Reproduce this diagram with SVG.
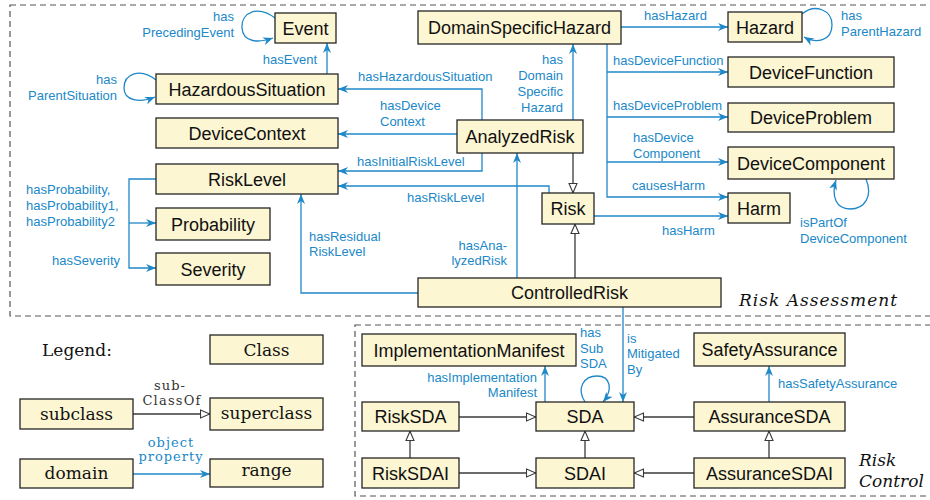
<svg xmlns="http://www.w3.org/2000/svg" width="930" height="500" viewBox="0 0 930 500">
<style>
.node rect{fill:#fdf6d2;stroke:#262626;stroke-width:1.3}
.node text{font-family:"Liberation Sans",Arial,sans-serif;font-size:18px;fill:#111;text-anchor:middle}
.lg rect{fill:#fdf6d2;stroke:#262626;stroke-width:1.3}
.lg text{font-family:"DejaVu Serif",serif;font-size:17px;fill:#111;text-anchor:middle}
.prop{fill:none;stroke:#1f88c8;stroke-width:1.3;marker-end:url(#arr)}
.bus{fill:none;stroke:#1f88c8;stroke-width:1.3}
.sub{fill:none;stroke:#3a3a3a;stroke-width:1.3;marker-end:url(#tri)}
.lbl{font-family:"Liberation Sans",Arial,sans-serif;font-size:13px;fill:#2088c8}
.r{text-anchor:end}
.c{text-anchor:middle}
.frame{fill:none;stroke:#555;stroke-width:1.2;stroke-dasharray:6,4}
.ital{font-family:"DejaVu Serif",serif;font-style:italic;font-size:17px;fill:#111}
.ser{font-family:"DejaVu Serif",serif;font-size:13px;text-anchor:middle}
</style>
<defs>
<marker id="arr" viewBox="0 0 10 8" refX="10" refY="4" markerWidth="10" markerHeight="8" orient="auto" markerUnits="userSpaceOnUse"><path d="M0,0 L10,4 L0,8 L3,4 Z" fill="#1f88c8"/></marker>
<marker id="tri" viewBox="0 0 11 10" refX="10.5" refY="5" markerWidth="11" markerHeight="10" orient="auto" markerUnits="userSpaceOnUse"><path d="M1,1 L10.3,5 L1,9 Z" fill="#fff" stroke="#3a3a3a" stroke-width="1.1"/></marker>
</defs>
<rect width="930" height="500" fill="#fff"/>
<g id="frames">
<rect class="frame" x="10" y="5" width="930" height="311"/>
<rect class="frame" x="355" y="325" width="600" height="171"/>
<text class="ital" x="739" y="306" textLength="158">Risk Assessment</text>
<text class="ital" x="859" y="466">Risk</text>
<text class="ital" x="859" y="487">Control</text>
</g>
<g id="connectors">
<path class="prop" d="M275,18 C258,5 241,12 242,28 C243,43 259,43 273,38"/>
<path class="prop" d="M327,74 V43"/>
<path class="prop" d="M156,80 C140,67 124,74 124,88 C124,101 140,103 155,97"/>
<path class="prop" d="M482,120 V89 H338"/>
<path class="prop" d="M457,134 H338"/>
<path class="prop" d="M482,153 V171 H338"/>
<path class="prop" d="M549,193 V186 H338"/>
<path class="prop" d="M418,293 H301 V194"/>
<path class="prop" d="M517,278 V153"/>
<path class="prop" d="M573,120 V44"/>
<path class="prop" d="M621,27 H728"/>
<path class="prop" d="M802,14 C815,3 832,10 832,25 C832,41 816,44 804,37"/>
<path class="prop" d="M607,44 V197 H728"/>
<path class="prop" d="M607,72 H728"/>
<path class="prop" d="M607,117 H728"/>
<path class="prop" d="M607,162 H728"/>
<path class="prop" d="M594,216 H728"/>
<path class="prop" d="M866,179 C873,196 865,209 850,209 C836,209 831,196 836,180"/>
<path class="prop" d="M156,179 H129 V268 H156"/>
<path class="prop" d="M129,223 H156"/>
<path class="prop" d="M623,307 V402"/>
<path class="prop" d="M585,402 C576,388 584,376 597,376 C611,376 613,390 603,402"/>
<path class="prop" d="M545,402 V366"/>
<path class="prop" d="M769,402 V366"/>
<path class="sub" d="M573,153 V193"/>
<path class="sub" d="M575,278 V224"/>
<path class="sub" d="M459,417 H536"/>
<path class="sub" d="M410,458 V431"/>
<path class="sub" d="M459,473 H536"/>
<path class="sub" d="M585,458 V431"/>
<path class="sub" d="M694,417 H634"/>
<path class="sub" d="M694,473 H634"/>
<path class="sub" d="M769,458 V431"/>
<path class="sub" d="M133,414 H210"/>
<path class="prop" d="M133,474 H210"/>
</g>
<g id="labels">
<text class="lbl r" x="234" y="20.5">has</text>
<text class="lbl r" x="234" y="36.5">PrecedingEvent</text>
<text class="lbl r" x="317" y="63.5">hasEvent</text>
<text class="lbl r" x="117" y="83.5">has</text>
<text class="lbl r" x="117" y="99.5">ParentSituation</text>
<text class="lbl" x="358" y="80.5">hasHazardousSituation</text>
<text class="lbl" x="380" y="109.5">hasDevice</text>
<text class="lbl" x="380" y="125.5">Context</text>
<text class="lbl" x="357" y="165.5">hasInitialRiskLevel</text>
<text class="lbl r" x="563" y="63.5">has</text>
<text class="lbl r" x="563" y="79.5">Domain</text>
<text class="lbl r" x="563" y="95.5">Specific</text>
<text class="lbl r" x="563" y="111.5">Hazard</text>
<text class="lbl" x="407" y="201.5">hasRiskLevel</text>
<text class="lbl" x="309" y="240.5">hasResidual</text>
<text class="lbl" x="309" y="255.5">RiskLevel</text>
<text class="lbl r" x="507" y="249.5">hasAna-</text>
<text class="lbl r" x="507" y="264.5">lyzedRisk</text>
<text class="lbl" x="644" y="19.5">hasHazard</text>
<text class="lbl" x="841" y="19.5">has</text>
<text class="lbl" x="841" y="35.5">ParentHazard</text>
<text class="lbl" x="613" y="64.5">hasDeviceFunction</text>
<text class="lbl" x="613" y="109.5">hasDeviceProblem</text>
<text class="lbl" x="633" y="141.5">hasDevice</text>
<text class="lbl" x="633" y="157.5">Component</text>
<text class="lbl" x="632" y="189.5">causesHarm</text>
<text class="lbl" x="662" y="234.5">hasHarm</text>
<text class="lbl" x="800" y="226.5">isPartOf</text>
<text class="lbl" x="800" y="242.5">DeviceComponent</text>
<text class="lbl" x="26" y="193.5">hasProbability,</text>
<text class="lbl" x="26" y="209.5">hasProbability1,</text>
<text class="lbl" x="26" y="225.5">hasProbability2</text>
<text class="lbl r" x="120" y="264.5">hasSeverity</text>
<text class="lbl" x="627" y="342.5">is</text>
<text class="lbl" x="627" y="357.5">Mitigated</text>
<text class="lbl" x="627" y="373.5">By</text>
<text class="lbl" x="580" y="336.5">has</text>
<text class="lbl" x="580" y="352.5">Sub</text>
<text class="lbl" x="580" y="367.5">SDA</text>
<text class="lbl r" x="537" y="381.5">hasImplementation</text>
<text class="lbl r" x="537" y="396.5">Manifest</text>
<text class="lbl" x="778" y="387.5">hasSafetyAssurance</text>
<text class="ser" x="170" y="390" fill="#333" letter-spacing="1">sub-</text>
<text class="ser" x="172" y="405" fill="#333" letter-spacing="1.2">ClassOf</text>
<text class="ser" x="171" y="447" fill="#2088c8" letter-spacing="1">object</text>
<text class="ser" x="171" y="461" fill="#2088c8" letter-spacing="1">property</text>
</g>
<g id="n-Event" class="node"><rect x="275" y="13" width="61" height="30"/><text x="305.5" y="34.5">Event</text></g>
<g id="n-HazardousSituation" class="node"><rect x="156" y="74" width="182" height="30"/><text x="247" y="95.5">HazardousSituation</text></g>
<g id="n-DeviceContext" class="node"><rect x="156" y="118" width="182" height="30"/><text x="247" y="139.5">DeviceContext</text></g>
<g id="n-RiskLevel" class="node"><rect x="156" y="164" width="182" height="30"/><text x="247" y="185.5">RiskLevel</text></g>
<g id="n-Probability" class="node"><rect x="156" y="208" width="114" height="32"/><text x="213" y="230.5">Probability</text></g>
<g id="n-Severity" class="node"><rect x="156" y="253" width="114" height="32"/><text x="213" y="275.5">Severity</text></g>
<g id="n-DomainSpecificHazard" class="node"><rect x="418" y="11" width="203" height="33"/><text x="519.5" y="34">DomainSpecificHazard</text></g>
<g id="n-AnalyzedRisk" class="node"><rect x="457" y="120" width="126" height="33"/><text x="520" y="143">AnalyzedRisk</text></g>
<g id="n-Risk" class="node"><rect x="542" y="193" width="52" height="31"/><text x="568" y="215">Risk</text></g>
<g id="n-ControlledRisk" class="node"><rect x="418" y="278" width="303" height="29"/><text x="569.5" y="299">ControlledRisk</text></g>
<g id="n-Hazard" class="node"><rect x="728" y="12" width="74" height="30"/><text x="765" y="33.5">Hazard</text></g>
<g id="n-DeviceFunction" class="node"><rect x="728" y="57" width="166" height="30"/><text x="811" y="78.5">DeviceFunction</text></g>
<g id="n-DeviceProblem" class="node"><rect x="728" y="103" width="166" height="29"/><text x="811" y="124">DeviceProblem</text></g>
<g id="n-DeviceComponent" class="node"><rect x="728" y="147" width="166" height="32"/><text x="811" y="169.5">DeviceComponent</text></g>
<g id="n-Harm" class="node"><rect x="728" y="193" width="62" height="30"/><text x="759" y="214.5">Harm</text></g>
<g id="n-ImplementationManifest" class="node"><rect x="362" y="334" width="214" height="32"/><text x="469" y="356.5">ImplementationManifest</text></g>
<g id="n-SafetyAssurance" class="node"><rect x="694" y="333" width="151" height="33"/><text x="769.5" y="356">SafetyAssurance</text></g>
<g id="n-RiskSDA" class="node"><rect x="362" y="402" width="97" height="29"/><text x="410.5" y="423">RiskSDA</text></g>
<g id="n-SDA" class="node"><rect x="536" y="402" width="98" height="29"/><text x="585" y="423">SDA</text></g>
<g id="n-AssuranceSDA" class="node"><rect x="694" y="402" width="151" height="29"/><text x="769.5" y="423">AssuranceSDA</text></g>
<g id="n-RiskSDAI" class="node"><rect x="362" y="458" width="97" height="30"/><text x="410.5" y="479.5">RiskSDAI</text></g>
<g id="n-SDAI" class="node"><rect x="536" y="458" width="98" height="30"/><text x="585" y="479.5">SDAI</text></g>
<g id="n-AssuranceSDAI" class="node"><rect x="694" y="458" width="151" height="30"/><text x="769.5" y="479.5">AssuranceSDAI</text></g>
<g id="legend" class="lg">
<text x="77" y="356">Legend:</text>
<g id="lg-Class"><rect x="210" y="335" width="113" height="29"/><text x="266.5" y="355.5">Class</text></g>
<g id="lg-subclass"><rect x="20" y="399" width="113" height="30"/><text x="76.5" y="419.5">subclass</text></g>
<g id="lg-superclass"><rect x="210" y="398" width="113" height="32"/><text x="266.5" y="419">superclass</text></g>
<g id="lg-domain"><rect x="20" y="459" width="113" height="29"/><text x="76.5" y="479">domain</text></g>
<g id="lg-range"><rect x="210" y="459" width="113" height="28"/><text x="266.5" y="476">range</text></g>
</g>
</svg>
